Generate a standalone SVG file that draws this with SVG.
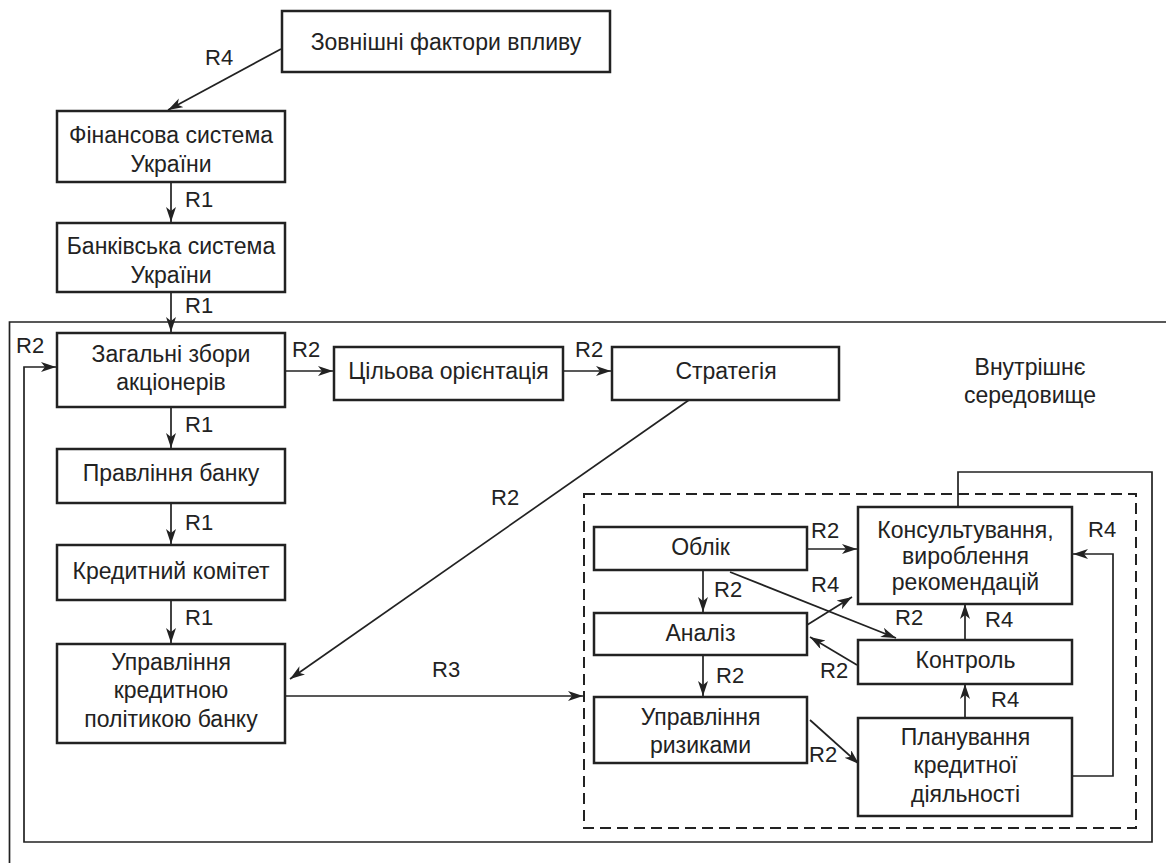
<svg xmlns="http://www.w3.org/2000/svg" width="1166" height="863" viewBox="0 0 1166 863">
<style>
  .box { fill: #fff; stroke: #222; stroke-width: 2.5; }
  .t { font-family: "Liberation Sans", Arial, sans-serif; font-size: 23px; fill: #222; }
  .lb { font-family: "Liberation Sans", Arial, sans-serif; font-size: 22px; fill: #222; }
  .c { text-anchor: middle; }
  .ln { fill: none; stroke: #222; stroke-width: 1.7; }
  .ar { marker-end: url(#ah); }
  .dash { fill: none; stroke: #222; stroke-width: 2; stroke-dasharray: 11 6; }
</style>
<defs>
  <marker id="ah" markerUnits="userSpaceOnUse" markerWidth="16" markerHeight="11" refX="15" refY="5" orient="auto">
    <path d="M0,0 L15,5 L0,10 L4,5 z" fill="#222"/>
  </marker>
</defs>
<rect width="1166" height="863" fill="#fff"/>

<g id="frames">
  <path class="ln" d="M1166,322 H9.5 V863"/>
  <rect class="dash" x="584" y="494" width="552" height="334"/>
  <text class="t c" x="1030" y="375">Внутрішнє</text>
  <text class="t c" x="1030" y="403">середовище</text>
</g>

<g id="connectors">
  <path class="ln ar" d="M281,49 L168,110"/>
  <path class="ln ar" d="M171,182 V222"/>
  <path class="ln ar" d="M171,292 V332"/>
  <path class="ln ar" d="M171,407 V448"/>
  <path class="ln ar" d="M171,503 V544"/>
  <path class="ln ar" d="M171,600 V643"/>
  <path class="ln ar" d="M285,371 H333"/>
  <path class="ln ar" d="M563,371 H611"/>
  <path class="ln ar" d="M689,400 L290,679"/>
  <path class="ln ar" d="M285,696 H583"/>
  <path class="ln ar" d="M958,507 V472 H1152 V842 H24 V367 H56"/>
  <path class="ln ar" d="M807,549 H857"/>
  <path class="ln ar" d="M703,570 V612"/>
  <path class="ln ar" d="M730,572 L896,638"/>
  <path class="ln ar" d="M807,625 L852,597"/>
  <path class="ln ar" d="M857,665 L810,637"/>
  <path class="ln ar" d="M965,640 V604"/>
  <path class="ln ar" d="M703,655 V696"/>
  <path class="ln ar" d="M810,720 L859,764"/>
  <path class="ln ar" d="M965,718 V684"/>
  <path class="ln ar" d="M1073,776 H1113 V554 H1073"/>
  <g class="lb">
    <text x="205" y="65">R4</text>
    <text x="185" y="207">R1</text>
    <text x="185" y="313">R1</text>
    <text x="16" y="353">R2</text>
    <text x="292" y="357">R2</text>
    <text x="575" y="357">R2</text>
    <text x="185" y="432">R1</text>
    <text x="185" y="530">R1</text>
    <text x="185" y="625">R1</text>
    <text x="491" y="505">R2</text>
    <text x="432" y="677">R3</text>
    <text x="811" y="538">R2</text>
    <text x="811" y="592">R4</text>
    <text x="1088" y="537">R4</text>
    <text x="714" y="597">R2</text>
    <text x="895" y="625">R2</text>
    <text x="985" y="627">R4</text>
    <text x="820" y="678">R2</text>
    <text x="716" y="683">R2</text>
    <text x="991" y="707">R4</text>
    <text x="809" y="762">R2</text>
  </g>
</g>

<g id="n-zovnishni">
  <rect class="box" x="282" y="11" width="328" height="61"/>
  <text class="t c" x="446" y="50">Зовнішні фактори впливу</text>
</g>
<g id="n-finansova">
  <rect class="box" x="57" y="111" width="228" height="71"/>
  <text class="t c" x="171" y="143">Фінансова система</text>
  <text class="t c" x="171" y="172">України</text>
</g>
<g id="n-bankivska">
  <rect class="box" x="57" y="223" width="228" height="69"/>
  <text class="t c" x="171" y="254">Банківська система</text>
  <text class="t c" x="171" y="283">України</text>
</g>
<g id="n-zahalni">
  <rect class="box" x="57" y="333" width="228" height="74"/>
  <text class="t c" x="171" y="362">Загальні збори</text>
  <text class="t c" x="171" y="390">акціонерів</text>
</g>
<g id="n-tsilova">
  <rect class="box" x="334" y="347" width="229" height="53"/>
  <text class="t c" x="448.5" y="379">Цільова орієнтація</text>
</g>
<g id="n-stratehiia">
  <rect class="box" x="612" y="347" width="227" height="53"/>
  <text class="t c" x="726" y="379">Стратегія</text>
</g>
<g id="n-pravlinnia">
  <rect class="box" x="57" y="449" width="228" height="54"/>
  <text class="t c" x="171" y="481">Правління банку</text>
</g>
<g id="n-kredytnyi">
  <rect class="box" x="57" y="545" width="228" height="55"/>
  <text class="t c" x="171" y="579">Кредитний комітет</text>
</g>
<g id="n-upravlinnia-kp">
  <rect class="box" x="57" y="644" width="228" height="99"/>
  <text class="t c" x="171" y="670">Управління</text>
  <text class="t c" x="171" y="698">кредитною</text>
  <text class="t c" x="171" y="727">політикою банку</text>
</g>
<g id="n-oblik">
  <rect class="box" x="594" y="527" width="213" height="43"/>
  <text class="t c" x="700.5" y="555">Облік</text>
</g>
<g id="n-analiz">
  <rect class="box" x="594" y="613" width="213" height="42"/>
  <text class="t c" x="700.5" y="641">Аналіз</text>
</g>
<g id="n-ryzyky">
  <rect class="box" x="594" y="697" width="213" height="66"/>
  <text class="t c" x="700.5" y="725">Управління</text>
  <text class="t c" x="700.5" y="753">ризиками</text>
</g>
<g id="n-konsult">
  <rect class="box" x="858" y="507" width="214" height="97"/>
  <text class="t c" x="965.5" y="538">Консультування,</text>
  <text class="t c" x="965.5" y="564">вироблення</text>
  <text class="t c" x="965.5" y="590">рекомендацій</text>
</g>
<g id="n-kontrol">
  <rect class="box" x="858" y="640" width="214" height="44"/>
  <text class="t c" x="965.5" y="668">Контроль</text>
</g>
<g id="n-planuvannia">
  <rect class="box" x="858" y="718" width="214" height="98"/>
  <text class="t c" x="965.5" y="745">Планування</text>
  <text class="t c" x="965.5" y="773">кредитної</text>
  <text class="t c" x="965.5" y="802">діяльності</text>
</g>
</svg>
